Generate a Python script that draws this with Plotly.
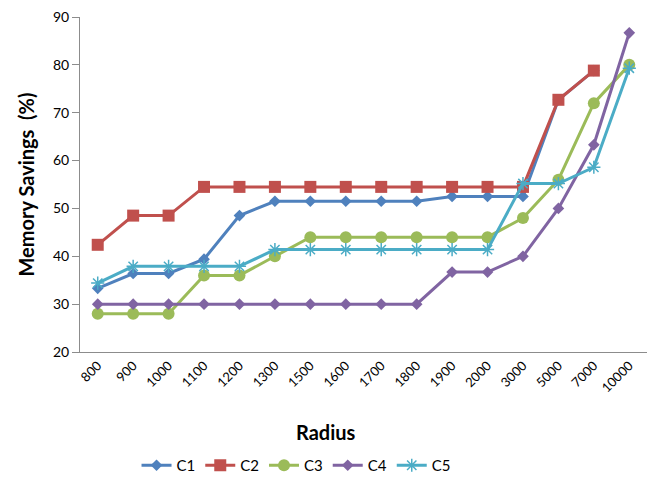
import plotly.graph_objects as go

radius = ["800", "900", "1000", "1100", "1200", "1300", "1500", "1600", "1700",
          "1800", "1900", "2000", "3000", "5000", "7000", "10000"]
c1 = [33.3, 36.4, 36.4, 39.4, 48.5, 51.5, 51.5, 51.5, 51.5, 51.5, 52.5, 52.5, 52.5, 72.7, 78.8]
c2 = [42.4, 48.5, 48.5, 54.5, 54.5, 54.5, 54.5, 54.5, 54.5, 54.5, 54.5, 54.5, 54.5, 72.7, 78.8]
c3 = [28, 28, 28, 36, 36, 40, 44, 44, 44, 44, 44, 44, 48, 56, 72, 80]
c4 = [30, 30, 30, 30, 30, 30, 30, 30, 30, 30, 36.7, 36.7, 40, 50, 63.3, 86.7]
c5 = [34.4, 37.9, 37.9, 37.9, 37.9, 41.4, 41.4, 41.4, 41.4, 41.4, 41.4, 41.4, 55.2, 55.2, 58.6, 79.3]

series = [
    ("C1", c1, "#4F81BD", "diamond", 9),
    ("C2", c2, "#C0504D", "square", 12),
    ("C3", c3, "#9BBB59", "circle", 12),
    ("C4", c4, "#8064A2", "diamond", 9),
    ("C5", c5, "#4BACC6", "asterisk-open", 11),
]

fig = go.Figure()
for name, vals, col, sym, sz in series:
    marker = dict(symbol=sym, size=sz, color=col)
    if sym == "asterisk-open":
        marker["line"] = dict(color=col, width=1.5)
    fig.add_trace(go.Scatter(
        x=radius[:len(vals)], y=vals, name=name, mode="lines+markers",
        line=dict(color=col, width=3), marker=marker,
    ))

# the page body has an 8px margin, so the figure is sized to fit the window
font = "Lato, 'Open Sans', Arial, sans-serif"
fig.update_layout(
    width=649, height=478,
    margin=dict(l=72, r=10, t=9, b=134, autoexpand=False),
    paper_bgcolor="white", plot_bgcolor="white",
    font=dict(family=font, size=14, color="#000000"),
    showlegend=True,
    legend=dict(orientation="h", x=0.381, xanchor="center",
                yref="container", y=1 - 441 / 478, yanchor="top",
                font=dict(size=15), itemwidth=30, tracegroupgap=0),
    xaxis=dict(type="category", categoryorder="array", categoryarray=radius,
               showline=True, linecolor="#8c8c8c", linewidth=1, automargin=False,
               showgrid=False, zeroline=False, tickangle=-45,
               tickfont=dict(size=13), range=[-0.5, 15.5]),
    yaxis=dict(range=[20, 90], dtick=10, showline=True, linecolor="#8c8c8c",
               linewidth=1, showgrid=False, zeroline=False, automargin=False,
               ticks="outside", ticklen=7, tickcolor="#8c8c8c",
               tickfont=dict(size=14), ticklabeloverflow="allow",
               title=dict(text="<b>Memory Savings  (%)</b>", font=dict(size=20), standoff=12)),
    annotations=[dict(text="<b>Radius</b>", x=0.434, xref="paper",
                      yref="paper", y=(344 - 424) / 335, yanchor="middle",
                      showarrow=False, font=dict(size=20))],
)

fig.write_html("out.html")
